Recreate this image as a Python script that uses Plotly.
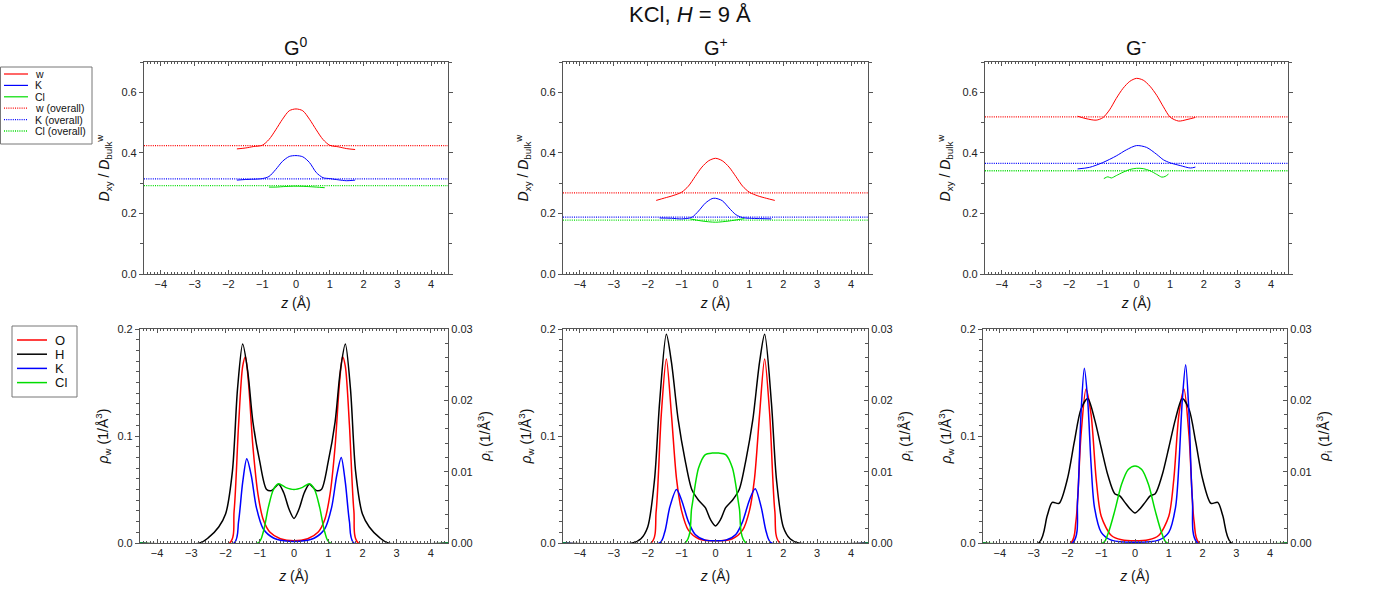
import plotly.graph_objects as go

W, H = 1379, 592
OFF = 0
FONT = "Liberation Sans, Arial, sans-serif"
RED, BLUE, GREEN, BLACK = "#ff0000", "#0000ff", "#00dd00", "#000000"

# ---------------- top row: D_xy / D_bulk^w ----------------
z_g0_w = [-1.75, -1.5, -1.25, -1.0, -0.8, -0.6, -0.4, -0.2, 0, 0.2, 0.4, 0.6, 0.8, 1.0, 1.25, 1.5, 1.75]
d_g0_w = [0.413, 0.416, 0.421, 0.425, 0.444, 0.476, 0.511, 0.539, 0.545, 0.539, 0.511, 0.476, 0.444, 0.425, 0.420, 0.414, 0.411]
z_g0_k = [-1.75, -1.5, -1.0, -0.8, -0.6, -0.4, -0.2, 0, 0.2, 0.4, 0.6, 0.8, 1.0, 1.25, 1.5, 1.75]
d_g0_k = [0.310, 0.312, 0.315, 0.322, 0.345, 0.372, 0.388, 0.391, 0.387, 0.368, 0.335, 0.318, 0.315, 0.311, 0.308, 0.310]
z_g0_cl = [-0.8, -0.6, -0.3, 0, 0.3, 0.6, 0.85]
d_g0_cl = [0.287, 0.287, 0.289, 0.290, 0.289, 0.287, 0.285]
ov_g0 = [0.424, 0.314, 0.292]   # w, K, Cl overall

z_gp_w = [-1.75, -1.5, -1.25, -1.0, -0.8, -0.6, -0.4, -0.2, 0, 0.2, 0.4, 0.6, 0.8, 1.0, 1.25, 1.5, 1.75]
d_gp_w = [0.243, 0.251, 0.259, 0.270, 0.290, 0.322, 0.353, 0.374, 0.382, 0.374, 0.353, 0.322, 0.290, 0.270, 0.258, 0.250, 0.243]
z_gp_k = [-1.65, -1.3, -1.0, -0.7, -0.5, -0.3, -0.1, 0, 0.2, 0.4, 0.6, 0.8, 1.0, 1.3, 1.65]
d_gp_k = [0.185, 0.184, 0.182, 0.187, 0.208, 0.234, 0.249, 0.250, 0.242, 0.218, 0.196, 0.186, 0.184, 0.183, 0.182]
z_gp_cl = [-0.75, -0.4, 0, 0.4, 0.85]
d_gp_cl = [0.182, 0.175, 0.171, 0.175, 0.183]
ov_gp = [0.268, 0.188, 0.178]

z_gm_w = [-1.75, -1.5, -1.2, -1.0, -0.8, -0.6, -0.4, -0.2, 0, 0.2, 0.4, 0.6, 0.8, 1.0, 1.25, 1.5, 1.75]
d_gm_w = [0.521, 0.513, 0.508, 0.516, 0.542, 0.580, 0.613, 0.636, 0.646, 0.640, 0.620, 0.590, 0.552, 0.518, 0.505, 0.510, 0.517]
z_gm_k = [-1.75, -1.4, -1.0, -0.6, -0.3, 0, 0.3, 0.6, 0.8, 1.0, 1.3, 1.6, 1.75]
d_gm_k = [0.347, 0.352, 0.368, 0.390, 0.410, 0.424, 0.418, 0.395, 0.377, 0.367, 0.358, 0.350, 0.353]
z_gm_cl = [-0.97, -0.85, -0.75, -0.6, -0.4, -0.2, 0, 0.2, 0.4, 0.6, 0.75, 0.85, 0.95]
d_gm_cl = [0.315, 0.321, 0.317, 0.325, 0.336, 0.345, 0.349, 0.348, 0.341, 0.329, 0.320, 0.322, 0.330]
ov_gm = [0.519, 0.365, 0.341]

z_full = [-4.5, 4.5]

# ---------------- bottom row: densities ----------------
# G0
z_b0_h = [-4.5, -2.75, -2.5, -2.2, -2.0, -1.8, -1.65, -1.5, -1.35, -1.2, -1.0, -0.8, -0.65, -0.45, -0.3, -0.15, 0,
          0.15, 0.3, 0.45, 0.65, 0.8, 1.0, 1.2, 1.35, 1.5, 1.65, 1.8, 2.0, 2.2, 2.5, 2.75, 4.5]
r_b0_h = [0, 0, 0.005, 0.015, 0.027, 0.067, 0.144, 0.186, 0.160, 0.113, 0.076, 0.050, 0.049, 0.055, 0.047, 0.032, 0.023,
          0.032, 0.047, 0.055, 0.049, 0.050, 0.076, 0.113, 0.160, 0.186, 0.144, 0.067, 0.027, 0.015, 0.005, 0, 0]
z_b0_o = [-4.5, -1.88, -1.75, -1.62, -1.5, -1.42, -1.33, -1.2, -1.05, -0.9, -0.7, -0.4, 0,
          0.4, 0.7, 0.9, 1.05, 1.2, 1.33, 1.42, 1.5, 1.62, 1.75, 1.88, 4.5]
r_b0_o = [0, 0, 0.03, 0.11, 0.165, 0.174, 0.15, 0.09, 0.045, 0.022, 0.010, 0.004, 0.002,
          0.004, 0.010, 0.022, 0.045, 0.09, 0.15, 0.174, 0.165, 0.11, 0.03, 0, 0]
z_b0_k = [-4.5, -1.75, -1.62, -1.5, -1.38, -1.25, -1.1, -0.9, -0.6, -0.3, 0,
          0.3, 0.6, 0.9, 1.1, 1.25, 1.38, 1.5, 1.62, 1.75, 4.5]
r_b0_k = [0, 0, 0.003, 0.0085, 0.0118, 0.0095, 0.005, 0.002, 0.0007, 0.0003, 0.0002,
          0.0003, 0.0007, 0.002, 0.005, 0.0095, 0.012, 0.0085, 0.003, 0, 0]
z_b0_cl = [-4.5, -1.05, -0.9, -0.75, -0.6, -0.45, -0.25, 0, 0.25, 0.45, 0.6, 0.75, 0.9, 1.05, 4.5]
r_b0_cl = [0, 0, 0.0015, 0.005, 0.0075, 0.0083, 0.0078, 0.0075, 0.0078, 0.0083, 0.0075, 0.005, 0.0015, 0, 0]

# G+
z_bp_h = [-4.5, -2.45, -2.2, -2.0, -1.8, -1.65, -1.45, -1.3, -1.1, -0.9, -0.7, -0.5, -0.3, -0.15, 0,
          0.15, 0.3, 0.5, 0.7, 0.9, 1.1, 1.3, 1.45, 1.65, 1.8, 2.0, 2.2, 2.45, 4.5]
r_bp_h = [0, 0, 0.004, 0.015, 0.059, 0.131, 0.195, 0.169, 0.115, 0.078, 0.050, 0.040, 0.033, 0.022, 0.016,
          0.022, 0.033, 0.040, 0.050, 0.078, 0.115, 0.169, 0.195, 0.131, 0.059, 0.015, 0.004, 0, 0]
z_bp_o = [-4.5, -1.9, -1.75, -1.6, -1.45, -1.3, -1.15, -1.0, -0.8, -0.5, 0,
          0.5, 0.8, 1.0, 1.15, 1.3, 1.45, 1.6, 1.75, 1.9, 4.5]
r_bp_o = [0, 0, 0.03, 0.12, 0.172, 0.12, 0.06, 0.03, 0.012, 0.004, 0.002,
          0.004, 0.012, 0.03, 0.06, 0.12, 0.172, 0.12, 0.03, 0, 0]
z_bp_k = [-4.5, -1.65, -1.5, -1.35, -1.15, -1.0, -0.8, -0.6, -0.3, 0,
          0.3, 0.6, 0.8, 1.0, 1.17, 1.35, 1.5, 1.65, 4.5]
r_bp_k = [0, 0, 0.0015, 0.005, 0.0075, 0.006, 0.003, 0.0012, 0.0004, 0.0003,
          0.0004, 0.0012, 0.003, 0.006, 0.0076, 0.005, 0.0015, 0, 0]
z_bp_cl = [-4.5, -0.9, -0.7, -0.5, -0.3, -0.1, 0, 0.1, 0.3, 0.5, 0.7, 0.9, 4.5]
r_bp_cl = [0, 0, 0.005, 0.0105, 0.0124, 0.0126, 0.0126, 0.0126, 0.0124, 0.0105, 0.005, 0, 0]

# G-
z_bm_h = [-4.5, -2.85, -2.6, -2.45, -2.25, -2.0, -1.8, -1.6, -1.4, -1.2, -1.0, -0.8, -0.6, -0.45, -0.3, -0.15, 0,
          0.15, 0.3, 0.45, 0.6, 0.8, 1.0, 1.2, 1.4, 1.6, 1.8, 2.0, 2.25, 2.45, 2.6, 2.85, 4.5]
r_bm_h = [0, 0, 0.0255, 0.038, 0.037, 0.060, 0.094, 0.125, 0.135, 0.116, 0.089, 0.063, 0.046, 0.044, 0.038, 0.032, 0.028,
          0.032, 0.038, 0.044, 0.046, 0.063, 0.089, 0.116, 0.135, 0.125, 0.094, 0.060, 0.037, 0.038, 0.0255, 0, 0]
z_bm_o = [-4.5, -1.9, -1.75, -1.6, -1.45, -1.3, -1.15, -1.0, -0.7, -0.4, 0,
          0.4, 0.7, 1.0, 1.15, 1.3, 1.45, 1.6, 1.75, 1.9, 4.5]
r_bm_o = [0, 0, 0.02, 0.10, 0.144, 0.12, 0.06, 0.025, 0.007, 0.003, 0.002,
          0.003, 0.007, 0.025, 0.06, 0.12, 0.144, 0.10, 0.02, 0, 0]
z_bm_k = [-4.5, -1.85, -1.7, -1.6, -1.5, -1.4, -1.3, -1.2, -1.0, -0.7, 0,
          0.7, 1.0, 1.2, 1.3, 1.4, 1.5, 1.6, 1.7, 1.85, 4.5]
r_bm_k = [0, 0, 0.006, 0.018, 0.0245, 0.020, 0.011, 0.005, 0.0015, 0.0004, 0.0001,
          0.0004, 0.0015, 0.005, 0.011, 0.020, 0.025, 0.018, 0.006, 0, 0]
z_bm_cl = [-4.5, -0.95, -0.8, -0.6, -0.4, -0.2, 0, 0.2, 0.4, 0.6, 0.8, 0.95, 4.5]
r_bm_cl = [0, 0, 0.0013, 0.0045, 0.0082, 0.0103, 0.0108, 0.0103, 0.0082, 0.0045, 0.0013, 0, 0]

x_ticks = [-4, -3, -2, -1, 0, 1, 2, 3, 4]
legend_top = ["w", "K", "Cl", "w (overall)", "K (overall)", "Cl (overall)"]
legend_bot = ["O", "H", "K", "Cl"]

# ---------------- layout geometry (page pixels) ----------------
top_px = [(144, 448), (563, 868), (985, 1288)]
top_py = (62, 274)
bot_px = [(140, 448), (563, 868), (983, 1287)]
bot_py = (329, 543)
DOT = "1px,1.2px"


def px(x):
    return (x - OFF) / W


def py(y):
    return 1 - (y - OFF) / H


def dx(a, b):
    return [px(a), px(b)]


def dy(t, b):
    return [py(b), py(t)]


fig = go.Figure()


def line(x, y, xa, ya, color, dash=None, width=1.0, shape="spline"):
    fig.add_trace(go.Scatter(
        x=x, y=y, xaxis=xa, yaxis=ya, mode="lines",
        line=dict(color=color, width=width, dash=dash, shape=shape, smoothing=0.8 if shape == "spline" else None),
        showlegend=False, hoverinfo="skip"))


tops = [
    (z_g0_w, d_g0_w, z_g0_k, d_g0_k, z_g0_cl, d_g0_cl, ov_g0),
    (z_gp_w, d_gp_w, z_gp_k, d_gp_k, z_gp_cl, d_gp_cl, ov_gp),
    (z_gm_w, d_gm_w, z_gm_k, d_gm_k, z_gm_cl, d_gm_cl, ov_gm),
]
for i, (zw, dw, zk, dk, zc, dc, ov) in enumerate(tops):
    xa, ya = f"x{i+1}", f"y{i+1}"
    line(z_full, [ov[0], ov[0]], xa, ya, RED, dash=DOT, width=1.3, shape="linear")
    line(z_full, [ov[1], ov[1]], xa, ya, BLUE, dash=DOT, width=1.3, shape="linear")
    line(z_full, [ov[2], ov[2]], xa, ya, GREEN, dash=DOT, width=1.3, shape="linear")
    line(zw, dw, xa, ya, RED)
    line(zk, dk, xa, ya, BLUE)
    line(zc, dc, xa, ya, GREEN)

bots = [
    (z_b0_o, r_b0_o, z_b0_h, r_b0_h, z_b0_k, r_b0_k, z_b0_cl, r_b0_cl),
    (z_bp_o, r_bp_o, z_bp_h, r_bp_h, z_bp_k, r_bp_k, z_bp_cl, r_bp_cl),
    (z_bm_o, r_bm_o, z_bm_h, r_bm_h, z_bm_k, r_bm_k, z_bm_cl, r_bm_cl),
]
for i, (zo, ro, zh, rh, zk, rk, zc, rc) in enumerate(bots):
    xa, ya, yr = f"x{i+4}", f"y{i+4}", f"y{i+7}"
    line(zo, ro, xa, ya, RED, width=1.5)
    line(zh, rh, xa, ya, BLACK, width=1.5)
    line(zk, rk, xa, yr, BLUE, width=1.5)
    line(zc, rc, xa, yr, GREEN, width=1.5)

AX = "#555555"
tickfont = dict(family=FONT, size=11, color="#222")
titlefont = dict(family=FONT, size=14, color="#111")
layout = {}


def xaxis(dom, anchor, standoff):
    return dict(domain=dom, anchor=anchor, range=[-4.5, 4.5], tickvals=x_ticks,
                ticks="inside", ticklen=4, tickcolor=AX, showline=True, linecolor=AX, linewidth=1.2,
                mirror="ticks", showgrid=False, zeroline=False, tickfont=tickfont,
                minor=dict(dtick=0.1, tick0=0, ticks="inside", ticklen=2, tickcolor=AX),
                title=dict(text="<i>z</i> (Å)", font=titlefont, standoff=standoff))


ytitle_top = "<i>D</i><sub>xy</sub> / <i>D</i><sub>bulk</sub><sup>w</sup>"
for i in range(3):
    layout[f"xaxis{i+1}"] = xaxis(dx(*top_px[i]), f"y{i+1}", 8)
    layout[f"yaxis{i+1}"] = dict(domain=dy(*top_py), anchor=f"x{i+1}", range=[0, 0.7],
                                 tickvals=[0, 0.2, 0.4, 0.6], tickformat=".1f",
                                 ticks="outside", ticklen=4, tickcolor=AX, showline=True, linecolor=AX,
                                 linewidth=1.2, mirror="ticks", showgrid=False, zeroline=False,
                                 tickfont=tickfont,
                                 minor=dict(dtick=0.1, tick0=0, ticks="outside", ticklen=3, tickcolor=AX),
                                 title=dict(text=ytitle_top, font=titlefont, standoff=8))
for i in range(3):
    layout[f"xaxis{i+4}"] = xaxis(dx(*bot_px[i]), f"y{i+4}", 12)
    layout[f"yaxis{i+4}"] = dict(domain=dy(*bot_py), anchor=f"x{i+4}", range=[0, 0.2],
                                 tickvals=[0, 0.1, 0.2], tickformat=".1f",
                                 ticks="outside", ticklen=4, tickcolor=AX, showline=True, linecolor=AX,
                                 linewidth=1.2, showgrid=False, zeroline=False, tickfont=tickfont,
                                 minor=dict(dtick=0.01, tick0=0, ticks="outside", ticklen=3, tickcolor=AX),
                                 title=dict(text="<i>ρ</i><sub>w</sub> (1/Å<sup>3</sup>)", font=titlefont, standoff=5))
    layout[f"yaxis{i+7}"] = dict(overlaying=f"y{i+4}", anchor=f"x{i+4}", side="right", range=[0, 0.03],
                                 tickvals=[0, 0.01, 0.02, 0.03], tickformat=".2f",
                                 ticks="inside", ticklen=4, tickcolor=AX, showline=True, linecolor=AX,
                                 linewidth=1.2, showgrid=False, zeroline=False, tickfont=tickfont,
                                 minor=dict(dtick=0.002, tick0=0, ticks="inside", ticklen=3, tickcolor=AX),
                                 title=dict(text="<i>ρ</i><sub>i</sub> (1/Å<sup>3</sup>)", font=titlefont, standoff=8))

annotations = [dict(text="KCl, <i>H</i> = 9 Å", x=px(690), y=py(15), xref="paper", yref="paper",
                    showarrow=False, font=dict(family=FONT, size=22, color="#111"), xanchor="center", yanchor="middle")]
for (a, b), t in zip(top_px, ["G<sup>0</sup>", "G<sup>+</sup>", "G<sup>-</sup>"]):
    annotations.append(dict(text=t, x=px((a + b) / 2), y=py(46), xref="paper", yref="paper",
                            showarrow=False, font=dict(family=FONT, size=20, color="#111"),
                            xanchor="center", yanchor="middle"))

# ---- legends (drawn as box + sample lines + labels) ----
shapes = []
shapes.append(dict(type="rect", xref="paper", yref="paper", x0=px(0.5), x1=px(92), y0=py(67), y1=py(144),
                   line=dict(color="#777", width=1), fillcolor="white", layer="above"))
top_styles = [(RED, None), (BLUE, None), (GREEN, None), (RED, DOT), (BLUE, DOT), (GREEN, DOT)]
for k, (lab, (col, dash)) in enumerate(zip(legend_top, top_styles)):
    yy = 74 + k * 11.4
    shapes.append(dict(type="line", xref="paper", yref="paper", x0=px(4), x1=px(28), y0=py(yy), y1=py(yy),
                       line=dict(color=col, width=1.3 if dash else 1.2, dash=dash), layer="above"))
    annotations.append(dict(text=lab, x=px(33), y=py(yy), xref="paper", yref="paper", showarrow=False,
                            xanchor="left", yanchor="middle", font=dict(family=FONT, size=10.5, color="#111")))
shapes.append(dict(type="rect", xref="paper", yref="paper", x0=px(12), x1=px(77), y0=py(326), y1=py(397),
                   line=dict(color="#777", width=1), fillcolor="white", layer="above"))
bot_colors = [RED, BLACK, BLUE, GREEN]
for k, (lab, col) in enumerate(zip(legend_bot, bot_colors)):
    yy = 340 + k * 14.2
    shapes.append(dict(type="line", xref="paper", yref="paper", x0=px(17), x1=px(47), y0=py(yy), y1=py(yy),
                       line=dict(color=col, width=1.5), layer="above"))
    annotations.append(dict(text=lab, x=px(53), y=py(yy), xref="paper", yref="paper", showarrow=False,
                            xanchor="left", yanchor="middle", font=dict(family=FONT, size=13, color="#111")))

fig.update_layout(
    width=W, height=H, margin=dict(l=0, r=0, t=0, b=0, autoexpand=False),
    paper_bgcolor="white", plot_bgcolor="white", font=dict(family=FONT, color="#111"),
    annotations=annotations, shapes=shapes, showlegend=False,
    **layout,
)

fig.write_html("out.html", config={"displayModeBar": False},
               post_script="document.body.style.margin='0';document.body.style.overflow='hidden';")
